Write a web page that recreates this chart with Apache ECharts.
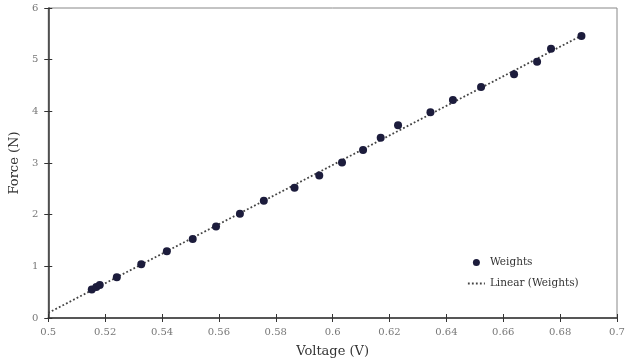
<!DOCTYPE html>
<html><head><meta charset="utf-8">
<script src="https://cdn.jsdelivr.net/npm/echarts@6/dist/echarts.min.js"></script>
<style>html,body{margin:0;padding:0;background:#fff}#c{width:628px;height:363px}</style>
</head><body><div id="c"></div>
<script>
const voltage = [0.5153,0.5169,0.5181,0.5241,0.5327,0.5417,0.5508,0.5590,0.5674,0.5758,0.5866,0.5953,0.6033,0.6107,0.6169,0.6230,0.6344,0.6423,0.6522,0.6638,0.6719,0.6768,0.6875];
const force   = [0.55,0.60,0.64,0.79,1.04,1.29,1.53,1.77,2.02,2.27,2.52,2.76,3.01,3.25,3.49,3.73,3.98,4.22,4.47,4.72,4.96,5.21,5.46];
const trendStart = 0.5;
const seriesNames = ['Weights','Linear (Weights)'];

// least-squares trendline (Excel "Linear" trendline)
const n = voltage.length;
let sx=0,sy=0,sxx=0,sxy=0;
for(let i=0;i<n;i++){sx+=voltage[i];sy+=force[i];sxx+=voltage[i]*voltage[i];sxy+=voltage[i]*force[i];}
const slope=(n*sxy-sx*sy)/(n*sxx-sx*sx), icpt=(sy-slope*sx)/n;
const trendEnd = voltage[n-1];
const trend = [[trendStart, slope*trendStart+icpt],[trendEnd, slope*trendEnd+icpt]];

const font = '"DejaVu Serif","Liberation Serif",serif';
const chart = echarts.init(document.getElementById('c'));
const axisLine = {show:true,lineStyle:{color:'#333',width:1.5}};
chart.setOption({
  animation:false,
  grid:{left:43,right:11,top:8,bottom:39,show:true,borderColor:'#888',borderWidth:1},
  xAxis:[{type:'value',min:0.5,max:0.7,interval:0.02,
    axisLine:axisLine,axisTick:{show:true,length:4,lineStyle:{color:'#333'}},
    axisLabel:{color:'#777',fontFamily:font,fontSize:10,margin:9,formatter:v=>String(+v.toFixed(2))},
    splitLine:{show:false},
    name:'Voltage (V)',nameLocation:'middle',nameGap:27,nameTextStyle:{color:'#333',fontFamily:font,fontSize:13}},
    {type:'value',min:0.5,max:0.7,interval:0.02,position:'bottom',
    axisLine:{show:false},axisTick:{show:true,inside:true,length:4,lineStyle:{color:'#333'}},axisLabel:{show:false},splitLine:{show:false}}],
  yAxis:[{type:'value',min:0,max:6,interval:1,
    axisLine:axisLine,axisTick:{show:true,length:4,lineStyle:{color:'#333'}},
    axisLabel:{color:'#777',fontFamily:font,fontSize:10,margin:10},
    splitLine:{show:false},
    name:'Force (N)',nameLocation:'middle',nameGap:21,nameTextStyle:{color:'#333',fontFamily:font,fontSize:13}},
    {type:'value',min:0,max:6,interval:1,position:'left',
    axisLine:{show:false},axisTick:{show:true,inside:true,length:4,lineStyle:{color:'#333'}},axisLabel:{show:false},splitLine:{show:false}}],
  legend:{orient:'vertical',left:467,top:257,padding:0,itemGap:10,itemWidth:17,itemHeight:7,
    textStyle:{fontFamily:font,fontSize:10.5,color:'#333'},
    data:[{name:seriesNames[0],icon:'circle',itemStyle:{color:'#1c1c3c'}},
          {name:seriesNames[1],itemStyle:{opacity:0},lineStyle:{color:'#444',width:1.8,type:[1.8,2.2]}}]},
  series:[
    {name:seriesNames[1],type:'line',data:trend,showSymbol:false,symbol:'none',
     lineStyle:{color:'#444',width:1.8,type:[1.8,2.2]},itemStyle:{color:'#444'},z:1},
    {name:seriesNames[0],type:'scatter',data:voltage.map((v,i)=>[v,force[i]]),symbolSize:8,
     itemStyle:{color:'#1c1c3c',opacity:1},z:2}
  ]
});
</script></body></html>
